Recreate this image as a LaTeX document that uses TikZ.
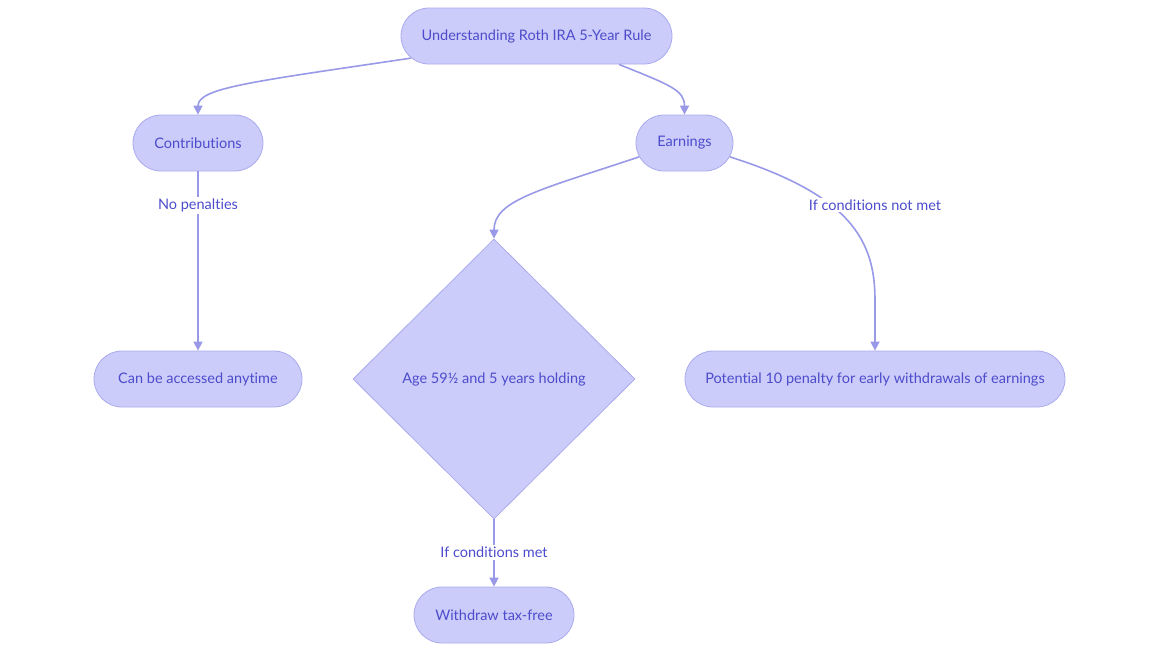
\documentclass[tikz,border=0pt]{standalone}
\usepackage{fontspec}
\setmainfont{Lato}[Ligatures=NoCommon]
\usetikzlibrary{shapes.misc,shapes.geometric,arrows.meta}
\definecolor{nodefill}{RGB}{204,204,250}
\definecolor{nodedraw}{RGB}{170,170,238}
\definecolor{edgecol}{RGB}{153,153,232}
\definecolor{txtcol}{RGB}{76,76,204}
\begin{document}
\begin{tikzpicture}[x=1pt,y=-1pt,
  every node/.style={font=\fontsize{14.5}{16}\selectfont, text=txtcol},
  pill/.style={rounded rectangle, draw=nodedraw, fill=nodefill, line width=0.8pt, minimum height=56pt, inner xsep=0pt},
  decision/.style={diamond, draw=nodedraw, fill=nodefill, line width=0.8pt, minimum width=282pt, minimum height=280pt, inner sep=0pt},
  conn/.style={draw=edgecol, line width=1.6pt, -{Triangle[length=9pt,width=9pt]}},
  lbl/.style={fill=white, inner sep=2pt}]
\path[use as bounding box] (0,0) rectangle (1160,654);

\node[pill, minimum width=271pt] (top) at (536.5,36) {Understanding Roth IRA 5-Year Rule};
\node[pill, minimum width=130pt] (contrib) at (198,143) {Contributions};
\node[pill, minimum width=97pt] (earn) at (684.5,143) {Earnings};
\node[pill, minimum width=208pt] (access) at (198,379) {Can be accessed anytime};
\node[decision] (age) at (494,379) {Age 59½ and 5 years holding};
\node[pill, minimum width=380pt] (pen) at (875,379) {Potential 10 penalty for early withdrawals of earnings};
\node[pill, minimum width=160pt] (wd) at (494,615) {Withdraw tax-free};

\draw[conn] (top.190) .. controls (250,82) and (198,88) .. (contrib.north);
\draw[conn] (top.-19.6) .. controls (670,85) and (684.5,90) .. (earn.north);
\draw[conn] (contrib.south) -- node[lbl, pos=0.19] {No penalties} (access.north);
\draw[conn] (earn.197) .. controls (540,190) and (494,200) .. (age.north);
\draw[conn] (earn.-17) .. controls (850,195) and (875,240) .. (875,300) -- (pen.north);
\node[lbl] at (875,205) {If conditions not met};
\draw[conn] (age.south) -- node[lbl, pos=0.49] {If conditions met} (wd.north);
\end{tikzpicture}
\end{document}
